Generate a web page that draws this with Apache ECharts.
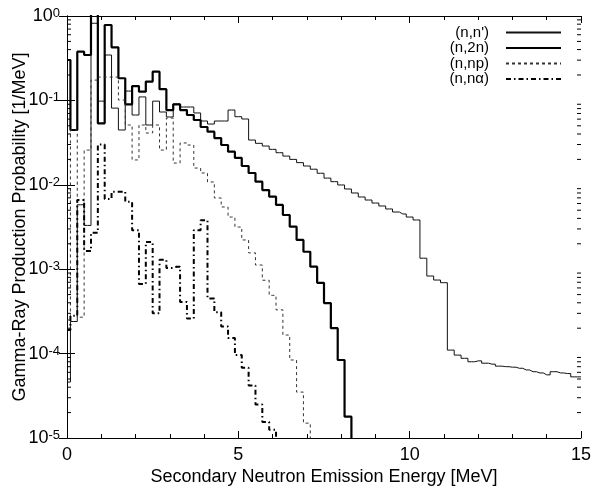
<!DOCTYPE html>
<html>
<head>
<meta charset="utf-8">
<script src="https://cdn.jsdelivr.net/npm/echarts@6/dist/echarts.min.js"></script>
<style>
  html, body { margin: 0; padding: 0; background: #fff; }
  #chart { width: 593px; height: 495px; }
</style>
</head>
<body>
<div id="chart"></div>
<script>
// bin centres (MeV), 0.2 MeV bins
const energies = [
  0.0, 0.2, 0.4, 0.6, 0.8, 1.0, 1.2, 1.4, 1.6, 1.8,
  2.0, 2.2, 2.4, 2.6, 2.8, 3.0, 3.2, 3.4, 3.6, 3.8,
  4.0, 4.2, 4.4, 4.6, 4.8, 5.0, 5.2, 5.4, 5.6, 5.8,
  6.0, 6.2, 6.4, 6.6, 6.8, 7.0, 7.2, 7.4, 7.6, 7.8,
  8.0, 8.2, 8.4, 8.6, 8.8, 9.0, 9.2, 9.4, 9.6, 9.8,
  10.0, 10.2, 10.4, 10.6, 10.8, 11.0, 11.2, 11.4, 11.6, 11.8,
  12.0, 12.2, 12.4, 12.6, 12.8, 13.0, 13.2, 13.4, 13.6, 13.8,
  14.0, 14.2, 14.4, 14.6, 14.8, 15.0
];

// (n,n')
const nnPrime = [
  4.6e-5, 2.4e-4, 5.8e-3, 3.3e-3, 0.82, 0.098, 0.345, 0.081, 0.0446, 0.129,
  0.0671, 0.110, 0.0511, 0.098, 0.0729, 0.0636, 0.0906, 0.0835, 0.0835, 0.0710,
  0.0570, 0.0525, 0.0570, 0.0570, 0.0769, 0.0641, 0.0602, 0.0339, 0.0310, 0.0288,
  0.0263, 0.0240, 0.0219, 0.0200, 0.0183, 0.0167, 0.0153, 0.0137, 0.0120, 0.0109,
  0.00995, 0.00892, 0.00800, 0.00717, 0.00660, 0.00608, 0.00561, 0.00517, 0.00476, 0.00451,
  0.00415, 0.00383, 0.00135, 0.00083, 0.000744, 0.000692, 1.10e-4, 9.6e-5, 8.8e-5, 8.0e-5,
  8.2e-5, 7.7e-5, 7.5e-5, 7.1e-5, 7.0e-5, 6.9e-5, 6.7e-5, 6.4e-5, 6.1e-5, 5.9e-5,
  5.6e-5, 6.1e-5, 5.9e-5, 5.8e-5, 5.3e-5, 5.3e-5
];

// (n,2n)
const n2n = [
  0.301, 0.0446, 0.378, 0.345, 1.5, 0.0535, 0.782, 0.426, 0.183, 0.0899,
  0.148, 0.127, 0.167, 0.219, 0.136, 0.0769, 0.0899, 0.0769, 0.0671, 0.0586,
  0.0484, 0.0426, 0.0358, 0.0296, 0.0247, 0.0208, 0.0167, 0.0138, 0.0109, 0.00867,
  0.00723, 0.00577, 0.00439, 0.00319, 0.00222, 0.00161, 0.00107, 6.9e-4, 3.97e-4, 2.0e-4,
  8.4e-5, 1.79e-5, 0
];

// (n,np)
const nnp = [
  2.5e-4, 0.0446, 2.7e-4, 0.0258, 0.174, 0.189, 0.189, 0.189, 0.101, 0.0511,
  0.0197, 0.0511, 0.0411, 0.0511, 0.0258, 0.0618, 0.0181, 0.0313, 0.0296, 0.0158,
  0.0138, 0.0108, 0.00698, 0.00546, 0.00415, 0.00316, 0.00222, 0.00156, 0.00112, 7.4e-4,
  4.9e-4, 3.3e-4, 1.66e-4, 8.4e-5, 3.5e-5, 1.5e-5, 0
];

// (n,nα)
const nna = [
  1.9e-4, 2.8e-4, 6.6e-3, 1.64e-3, 2.7e-3, 0.03, 6.8e-3, 8.3e-3, 8.3e-3, 6.3e-3,
  2.9e-3, 6.7e-4, 2.1e-3, 3.0e-4, 1.29e-3, 1.03e-3, 1.07e-3, 4.1e-4, 2.6e-4, 2.9e-3,
  3.8e-3, 4.5e-4, 3.1e-4, 2.1e-4, 1.53e-4, 9.6e-5, 6.8e-5, 4.2e-5, 2.5e-5, 1.55e-5,
  1.25e-5, 0
];

const xTickLabels = ['0', '5', '10', '15'];

// zero can't sit on a log axis, push it far below the visible range
const toPairs = arr => arr.map((v, i) => [energies[i], v > 0 ? v : 1e-9]);

// minor ticks 2..9 of each decade for the log axis
const minorY = [];
for (let e = -5; e < 0; e++) {
  for (let m = 2; m <= 9; m++) minorY.push([0, m * Math.pow(10, e)]);
}

const chart = echarts.init(document.getElementById('chart'));
const font = 'Liberation Sans, Arial, sans-serif';

function stepSeries(name, arr, lineStyle) {
  return {
    name, type: 'line', step: 'middle', data: toPairs(arr),
    showSymbol: false, symbol: 'none', clip: true, animation: false,
    itemStyle: { color: '#000' },
    lineStyle
  };
}

chart.setOption({
  animation: false,
  grid: { left: 67, right: 12, top: 16, bottom: 57, containLabel: false, outerBoundsMode: 'none' },
  legend: {
    orient: 'vertical', align: 'right', right: 31, top: 25,
    padding: 0, itemGap: 0.5, itemWidth: 55, itemHeight: 8,
    itemStyle: { opacity: 0 },
    data: ["(n,n')", '(n,2n)', '(n,np)', '(n,nα)'],
    textStyle: { fontFamily: font, fontSize: 15, color: '#000', lineHeight: 15, padding: [0, 12, 0, 0] }
  },
  xAxis: [{
    type: 'value', min: 0, max: 15, interval: 5,
    name: 'Secondary Neutron Emission Energy [MeV]', nameLocation: 'middle', nameGap: 30,
    nameMoveOverlap: false,
    nameTextStyle: { fontFamily: font, fontSize: 18, color: '#000' },
    axisLine: { lineStyle: { color: '#000', width: 1 } },
    axisTick: { inside: true, length: 7, lineStyle: { color: '#000' } },
    minorTick: { show: true, splitNumber: 5, length: 4, lineStyle: { color: '#000' } },
    splitLine: { show: false },
    axisLabel: {
      fontFamily: font, fontSize: 18, color: '#000', margin: 8,
      formatter: v => xTickLabels[Math.round(v / 5)]
    }
  }, {
    type: 'value', position: 'top', min: 0, max: 15, interval: 5,
    axisLine: { show: true, lineStyle: { color: '#000', width: 1 } },
    axisTick: { inside: true, length: 7, lineStyle: { color: '#000' } },
    minorTick: { show: true, splitNumber: 5, length: 4, lineStyle: { color: '#000' } },
    splitLine: { show: false }, axisLabel: { show: false }
  }],
  yAxis: [{
    type: 'log', logBase: 10, min: 1e-5, max: 1,
    name: 'Gamma-Ray Production Probability [1/MeV]', nameLocation: 'middle', nameGap: 38,
    nameMoveOverlap: false,
    nameTextStyle: { fontFamily: font, fontSize: 18, color: '#000' },
    axisLine: { show: true, lineStyle: { color: '#000', width: 1 } },
    axisTick: { inside: true, length: 8, lineStyle: { color: '#000' } },
    splitLine: { show: false },
    axisLabel: {
      margin: 7, fontSize: 18, fontFamily: font, color: '#000',
      formatter: v => '{b|10}{s|' + Math.round(Math.log10(v)) + '}',
      rich: {
        b: { fontFamily: font, fontSize: 18, color: '#000', lineHeight: 18, verticalAlign: 'bottom' },
        s: { fontFamily: font, fontSize: 13, color: '#000', lineHeight: 13, verticalAlign: 'top', padding: [0, 0, 11, 0] }
      }
    }
  }, {
    type: 'log', logBase: 10, min: 1e-5, max: 1, position: 'right',
    axisLine: { show: true, lineStyle: { color: '#000', width: 1 } },
    axisTick: { inside: true, length: 8, lineStyle: { color: '#000' } },
    splitLine: { show: false }, axisLabel: { show: false }
  }],
  series: [
    stepSeries("(n,n')", nnPrime, { color: '#111', width: 1 }),
    stepSeries('(n,2n)', n2n, { color: '#000', width: 2.2 }),
    stepSeries('(n,np)', nnp, { color: '#333', width: 1, type: [3, 3] }),
    stepSeries('(n,nα)', nna, { color: '#000', width: 2, type: [5, 3, 1.5, 3] }),
    {
      type: 'custom', silent: true, data: minorY, z: 5,
      renderItem: (params, api) => {
        const v = api.value(1);
        const l = api.coord([0, v]);
        const r = api.coord([15, v]);
        const st = { stroke: '#000', lineWidth: 1 };
        return {
          type: 'group',
          children: [
            { type: 'line', shape: { x1: l[0], y1: l[1], x2: l[0] + 4, y2: l[1] }, style: st },
            { type: 'line', shape: { x1: r[0] - 4, y1: r[1], x2: r[0], y2: r[1] }, style: st }
          ]
        };
      }
    }
  ]
});
</script>
</body>
</html>
